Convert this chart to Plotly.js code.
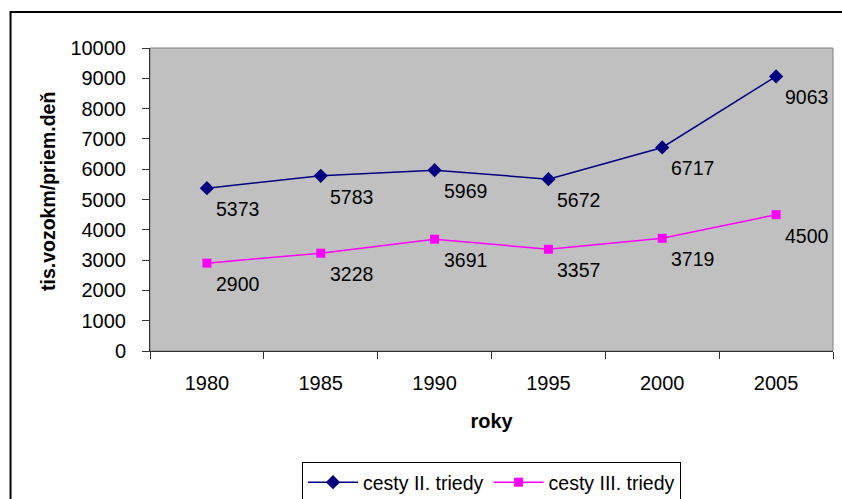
<!DOCTYPE html>
<html><head><meta charset="utf-8">
<script src="https://cdn.plot.ly/plotly-3.0.1.min.js"></script>
<style>html,body{margin:0;padding:0;background:#fff;overflow:hidden;width:842px;height:499px;}</style>
</head><body><div id="chart" style="width:842px;height:520px;"></div>
<script>
const years = ['1980','1985','1990','1995','2000','2005'];
const cestyII = [5373,5783,5969,5672,6717,9063];
const cestyIII = [2900,3228,3691,3357,3719,4500];
const seriesNames = ['cesty II. triedy','cesty III. triedy'];
const xTitle = 'roky';
const yTitle = 'tis.vozokm/priem.deň';

const FONT = 'Arial, "Liberation Sans", sans-serif';
const H = 520;

const traces = [
  {x: years, y: cestyII, name: seriesNames[0], type: 'scatter', mode: 'lines+markers',
   line: {color: '#000080', width: 1.5}, marker: {symbol: 'diamond', size: 11, color: '#000080'}},
  {x: years, y: cestyIII, name: seriesNames[1], type: 'scatter', mode: 'lines+markers',
   line: {color: '#FF00FF', width: 1.5}, marker: {symbol: 'square', size: 9, color: '#FF00FF'}}
];

const annotations = [];
[cestyII, cestyIII].forEach(series => {
  series.forEach((v, i) => {
    annotations.push({x: i, y: v, xref: 'x', yref: 'y', text: String(v), showarrow: false,
      xanchor: 'left', yanchor: 'middle', xshift: 7, yshift: -21,
      font: {family: FONT, size: 19.5, color: '#000'}});
  });
});
// y axis title placed as annotation (rotated)
annotations.push({xref: 'paper', yref: 'paper', x: (48 - 150) / 683, y: (351 - 192) / 303,
  text: '<b>' + yTitle + '</b>', textangle: -90, showarrow: false, xanchor: 'center', yanchor: 'middle',
  font: {family: FONT, size: 19.5, color: '#000'}});

const layout = {
  width: 842, height: H,
  margin: {l: 150, r: 9, t: 48, b: H - 351, pad: 0},
  paper_bgcolor: '#fff', plot_bgcolor: '#C0C0C0',
  font: {family: FONT, size: 20, color: '#000'},
  showlegend: true,
  xaxis: {type: 'category', range: [-0.5, 5.5], tickson: 'boundaries', ticks: 'outside', ticklen: 7,
    tickcolor: '#333', showline: true, linecolor: '#333', linewidth: 1, showgrid: false, zeroline: false,
    ticklabelstandoff: 14,
    title: {text: '<b>' + xTitle + '</b>', font: {size: 20}, standoff: 20}},
  yaxis: {range: [0, 10000], dtick: 1000, ticks: 'outside', ticklen: 7, tickcolor: '#333',
    showline: true, linecolor: '#333', linewidth: 1, showgrid: false, zeroline: false,
    exponentformat: 'none', separatethousands: false, tickformat: 'd',
    ticklabelstandoff: 12},
  legend: {orientation: 'h', x: 0.5, xanchor: 'center', y: (351 - 462) / 303, yanchor: 'top',
    bgcolor: '#fff', bordercolor: '#000', borderwidth: 1, font: {size: 19.5}, itemwidth: 50},
  annotations: annotations,
  shapes: [
    {type: 'rect', xref: 'paper', yref: 'paper', x0: 0, x1: 1, y0: 0, y1: 1,
     line: {color: '#808080', width: 1}, layer: 'below'},
    {type: 'rect', xref: 'paper', yref: 'paper', x0: -0.2042, x1: 1.1, y0: -0.5, y1: 1.1188,
     line: {color: '#000', width: 2}, layer: 'above'}
  ]
};

Plotly.newPlot('chart', traces, layout, {displayModeBar: false, staticPlot: true});
</script></body></html>
